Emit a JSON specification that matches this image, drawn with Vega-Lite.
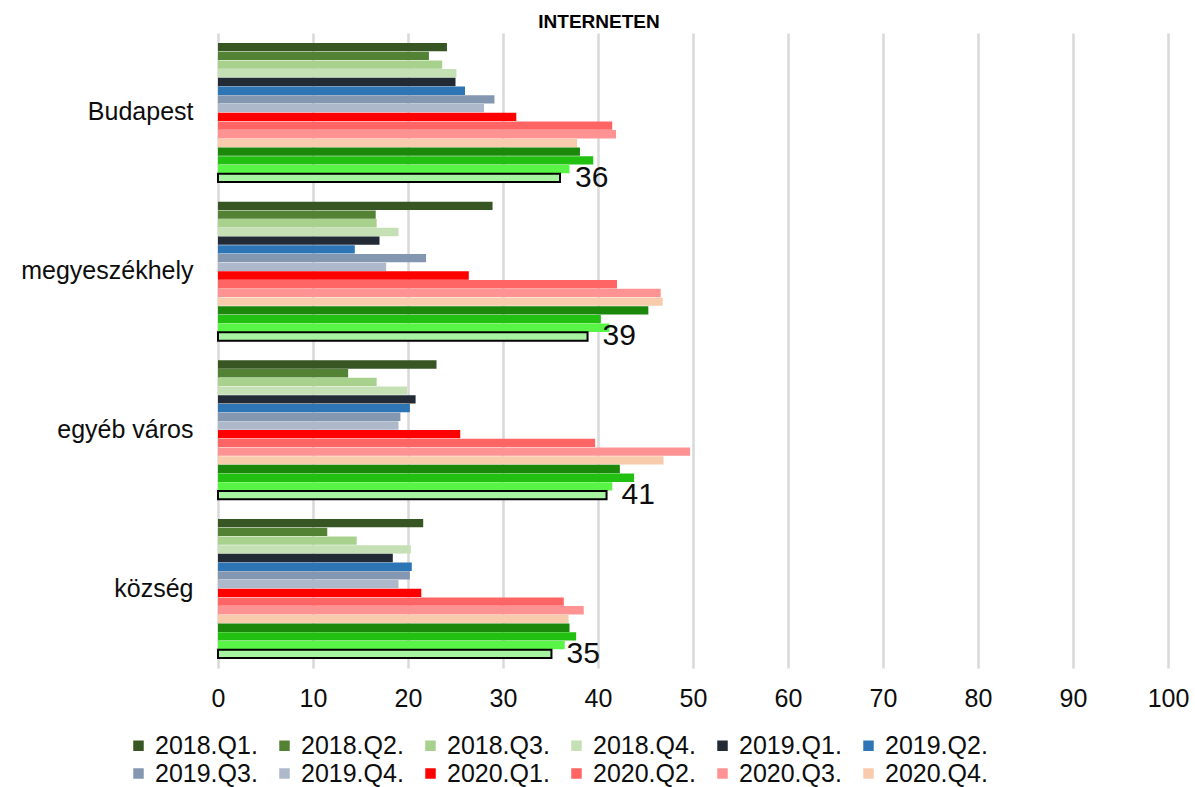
{
  "$schema": "https://vega.github.io/schema/vega-lite/v6.json",
  "autosize": "none",
  "width": 950,
  "height": 635,
  "padding": {"left": 218, "top": 33, "right": 27, "bottom": 119},
  "background": "white",
  "config": {
    "font": "Liberation Sans",
    "view": {"stroke": null}
  },
  "title": {
    "text": "INTERNETEN",
    "fontSize": 19,
    "fontWeight": "bold",
    "color": "#000000",
    "anchor": "middle",
    "dx": -94,
    "offset": 1
  },
  "data": {
    "values": [
      {"cat": "Budapest", "period": "2018.Q1.", "value": 24.1},
      {"cat": "Budapest", "period": "2018.Q2.", "value": 22.2},
      {"cat": "Budapest", "period": "2018.Q3.", "value": 23.6},
      {"cat": "Budapest", "period": "2018.Q4.", "value": 25.1},
      {"cat": "Budapest", "period": "2019.Q1.", "value": 25.0},
      {"cat": "Budapest", "period": "2019.Q2.", "value": 26.0},
      {"cat": "Budapest", "period": "2019.Q3.", "value": 29.1},
      {"cat": "Budapest", "period": "2019.Q4.", "value": 28.0},
      {"cat": "Budapest", "period": "2020.Q1.", "value": 31.4},
      {"cat": "Budapest", "period": "2020.Q2.", "value": 41.5},
      {"cat": "Budapest", "period": "2020.Q3.", "value": 41.9},
      {"cat": "Budapest", "period": "2020.Q4.", "value": 37.8},
      {"cat": "Budapest", "period": "2021.Q1.", "value": 38.1},
      {"cat": "Budapest", "period": "2021.Q2.", "value": 39.5},
      {"cat": "Budapest", "period": "2021.Q3.", "value": 37.0},
      {"cat": "Budapest", "period": "2021.Q4.", "value": 36.0},
      {"cat": "megyeszékhely", "period": "2018.Q1.", "value": 28.9},
      {"cat": "megyeszékhely", "period": "2018.Q2.", "value": 16.6},
      {"cat": "megyeszékhely", "period": "2018.Q3.", "value": 16.7},
      {"cat": "megyeszékhely", "period": "2018.Q4.", "value": 19.0},
      {"cat": "megyeszékhely", "period": "2019.Q1.", "value": 17.0},
      {"cat": "megyeszékhely", "period": "2019.Q2.", "value": 14.4},
      {"cat": "megyeszékhely", "period": "2019.Q3.", "value": 21.9},
      {"cat": "megyeszékhely", "period": "2019.Q4.", "value": 17.7},
      {"cat": "megyeszékhely", "period": "2020.Q1.", "value": 26.4},
      {"cat": "megyeszékhely", "period": "2020.Q2.", "value": 42.0},
      {"cat": "megyeszékhely", "period": "2020.Q3.", "value": 46.6},
      {"cat": "megyeszékhely", "period": "2020.Q4.", "value": 46.8},
      {"cat": "megyeszékhely", "period": "2021.Q1.", "value": 45.3},
      {"cat": "megyeszékhely", "period": "2021.Q2.", "value": 40.3},
      {"cat": "megyeszékhely", "period": "2021.Q3.", "value": 41.2},
      {"cat": "megyeszékhely", "period": "2021.Q4.", "value": 38.9},
      {"cat": "egyéb város", "period": "2018.Q1.", "value": 23.0},
      {"cat": "egyéb város", "period": "2018.Q2.", "value": 13.7},
      {"cat": "egyéb város", "period": "2018.Q3.", "value": 16.7},
      {"cat": "egyéb város", "period": "2018.Q4.", "value": 19.9},
      {"cat": "egyéb város", "period": "2019.Q1.", "value": 20.8},
      {"cat": "egyéb város", "period": "2019.Q2.", "value": 20.2},
      {"cat": "egyéb város", "period": "2019.Q3.", "value": 19.2},
      {"cat": "egyéb város", "period": "2019.Q4.", "value": 19.0},
      {"cat": "egyéb város", "period": "2020.Q1.", "value": 25.5},
      {"cat": "egyéb város", "period": "2020.Q2.", "value": 39.7},
      {"cat": "egyéb város", "period": "2020.Q3.", "value": 49.7},
      {"cat": "egyéb város", "period": "2020.Q4.", "value": 46.9},
      {"cat": "egyéb város", "period": "2021.Q1.", "value": 42.3},
      {"cat": "egyéb város", "period": "2021.Q2.", "value": 43.8},
      {"cat": "egyéb város", "period": "2021.Q3.", "value": 41.5},
      {"cat": "egyéb város", "period": "2021.Q4.", "value": 40.9},
      {"cat": "község", "period": "2018.Q1.", "value": 21.6},
      {"cat": "község", "period": "2018.Q2.", "value": 11.5},
      {"cat": "község", "period": "2018.Q3.", "value": 14.6},
      {"cat": "község", "period": "2018.Q4.", "value": 20.3},
      {"cat": "község", "period": "2019.Q1.", "value": 18.4},
      {"cat": "község", "period": "2019.Q2.", "value": 20.4},
      {"cat": "község", "period": "2019.Q3.", "value": 20.2},
      {"cat": "község", "period": "2019.Q4.", "value": 19.0},
      {"cat": "község", "period": "2020.Q1.", "value": 21.4},
      {"cat": "község", "period": "2020.Q2.", "value": 36.4},
      {"cat": "község", "period": "2020.Q3.", "value": 38.5},
      {"cat": "község", "period": "2020.Q4.", "value": 36.9},
      {"cat": "község", "period": "2021.Q1.", "value": 37.0},
      {"cat": "község", "period": "2021.Q2.", "value": 37.7},
      {"cat": "község", "period": "2021.Q3.", "value": 36.5},
      {"cat": "község", "period": "2021.Q4.", "value": 35.1}
    ]
  },
  "encoding": {
    "y": {
      "field": "cat",
      "type": "nominal",
      "sort": ["Budapest", "megyeszékhely", "egyéb város", "község"],
      "scale": {"paddingInner": 0.124, "paddingOuter": 0.063},
      "axis": {
        "title": null,
        "ticks": false,
        "domain": false,
        "labelFontSize": 25,
        "labelColor": "#0d0d0d",
        "labelPadding": 25
      }
    },
    "yOffset": {
      "field": "period",
      "type": "nominal",
      "sort": ["2018.Q1.", "2018.Q2.", "2018.Q3.", "2018.Q4.", "2019.Q1.", "2019.Q2.", "2019.Q3.", "2019.Q4.", "2020.Q1.", "2020.Q2.", "2020.Q3.", "2020.Q4.", "2021.Q1.", "2021.Q2.", "2021.Q3.", "2021.Q4."],
      "scale": {"paddingInner": 0.04}
    },
    "x": {
      "field": "value",
      "type": "quantitative",
      "scale": {"domain": [0, 100], "nice": false},
      "axis": {
        "title": null,
        "values": [0, 10, 20, 30, 40, 50, 60, 70, 80, 90, 100],
        "ticks": false,
        "domain": false,
        "grid": true,
        "gridColor": "#d9d9d9",
        "gridWidth": 2.5,
        "labelFontSize": 25,
        "labelColor": "#0d0d0d",
        "labelPadding": 18,
        "labelFlush": false
      }
    }
  },
  "layer": [
    {
      "mark": {"type": "bar"},
      "encoding": {
        "color": {
          "field": "period",
          "type": "nominal",
          "scale": {
            "domain": ["2018.Q1.", "2018.Q2.", "2018.Q3.", "2018.Q4.", "2019.Q1.", "2019.Q2.", "2019.Q3.", "2019.Q4.", "2020.Q1.", "2020.Q2.", "2020.Q3.", "2020.Q4.", "2021.Q1.", "2021.Q2.", "2021.Q3.", "2021.Q4."],
            "range": ["#375623", "#548235", "#A9D18E", "#C5E0B4", "#222A35", "#2E75B6", "#8497B0", "#ADB9CA", "#FF0000", "#FF6565", "#FF9393", "#F8CBAD", "#1B870B", "#22C010", "#58F446", "#A6F3A0"]
          },
          "legend": {
            "values": ["2018.Q1.", "2018.Q2.", "2018.Q3.", "2018.Q4.", "2019.Q1.", "2019.Q2.", "2019.Q3.", "2019.Q4.", "2020.Q1.", "2020.Q2.", "2020.Q3.", "2020.Q4."],
            "title": null,
            "orient": "none",
            "legendX": -92,
            "legendY": 700,
            "direction": "horizontal",
            "columns": 6,
            "symbolType": "square",
            "symbolSize": 110,
            "symbolStrokeWidth": 0,
            "labelFontSize": 25,
            "labelColor": "#0d0d0d",
            "labelOffset": 4,
            "columnPadding": 14,
            "rowPadding": 2,
            "labelLimit": 300
          }
        },
        "stroke": {
          "condition": {"test": "datum.period === '2021.Q4.'", "value": "#000000"},
          "value": "transparent"
        },
        "strokeWidth": {
          "condition": {"test": "datum.period === '2021.Q4.'", "value": 2},
          "value": 0
        }
      }
    },
    {
      "transform": [{"filter": "datum.period === '2021.Q4.'"}],
      "mark": {"type": "text", "align": "left", "baseline": "middle", "dx": 15, "dy": 0, "fontSize": 30, "color": "#0d0d0d"},
      "encoding": {
        "text": {"field": "value", "type": "quantitative", "format": ".0f"}
      }
    }
  ]
}
